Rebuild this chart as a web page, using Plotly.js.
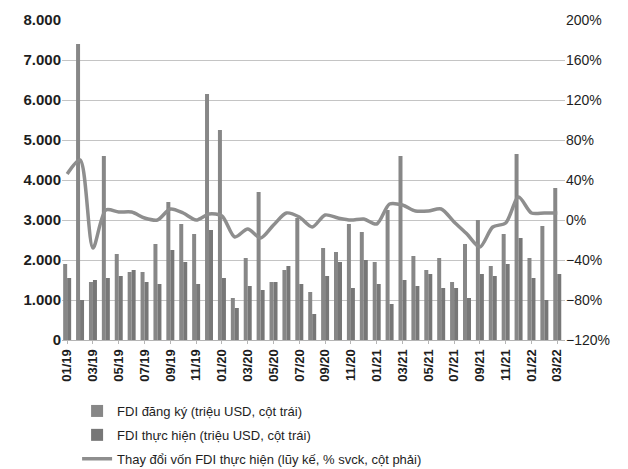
<!DOCTYPE html>
<html>
<head>
<meta charset="utf-8">
<script src="https://cdn.plot.ly/plotly-3.0.1.min.js"></script>
<style>
html,body{margin:0;padding:0;background:#fff;}
#chart{width:628px;height:469px;}
</style>
</head>
<body>
<div id="chart"></div>
<script>
const months = ["01/19","02/19","03/19","04/19","05/19","06/19","07/19","08/19","09/19","10/19","11/19","12/19",
"01/20","02/20","03/20","04/20","05/20","06/20","07/20","08/20","09/20","10/20","11/20","12/20",
"01/21","02/21","03/21","04/21","05/21","06/21","07/21","08/21","09/21","10/21","11/21","12/21",
"01/22","02/22","03/22"];

const fdiRegistered = [1900,7400,1450,4600,2150,1700,1700,2400,3450,2900,2650,6150,
5250,1050,2050,3700,1450,1750,3050,1200,2300,2200,2900,2700,
1950,3250,4600,2100,1750,2050,1450,2400,3000,1850,2650,4650,
2050,2850,3800];

const fdiDisbursed = [1550,1000,1500,1550,1600,1750,1450,1400,2250,1950,1400,2750,
1550,800,1350,1250,1450,1850,1400,650,1600,1950,1300,2000,
1400,900,1500,1350,1650,1300,1300,1050,1650,1600,1900,2550,
1550,1000,1650];

const fdiChangePct = [46,60,-28,10,8,8,2,0,11,7,0,6,
4,-17,-9,-18,-5,7,3,-7,5,2,0,1,
-4,16,15,9,9,11,-2,-14,-27,-7,-3,23,
7,7,7];

const tickLabels = months.filter((m, i) => i % 2 === 0);

const font = "Liberation Sans, Arial, sans-serif";

const traces = [
  {type:"bar", name:"FDI đăng ký (triệu USD, cột trái)", x:months, y:fdiRegistered,
   legendgroup:"a", marker:{color:"#878787"}},
  {type:"bar", name:"FDI thực hiện (triệu USD, cột trái)", x:months, y:fdiDisbursed,
   legendgroup:"b", marker:{color:"#777777"}},
  {type:"scatter", mode:"lines", name:"Thay đổi vốn FDI thực hiện (lũy kế, % svck, cột phải)",
   x:months, y:fdiChangePct, yaxis:"y2", legendgroup:"c",
   line:{color:"#8e8e8e", width:3.5, shape:"spline", smoothing:0.8}}
];

const layout = {
  width:628, height:469,
  margin:{l:62, r:63, t:20, b:129, autoexpand:false},
  paper_bgcolor:"#ffffff", plot_bgcolor:"#ffffff",
  separators:",.",
  barmode:"group", bargap:0.38, bargroupgap:0,
  font:{family:font, color:"#1e1e1e", size:12},
  showlegend:true,
  legend:{orientation:"v", traceorder:"grouped", x:0.03, xanchor:"left", y:-0.175, yanchor:"top",
          font:{family:font, size:13, color:"#1e1e1e"}, tracegroupgap:4,
          bgcolor:"rgba(0,0,0,0)"},
  xaxis:{type:"category", range:[-0.4, 38.6], tickmode:"array", tickvals:tickLabels, ticktext:tickLabels,
         tickangle:-90, tickfont:{family:font, size:13, color:"#1e1e1e", weight:"bold"},
         showline:true, linecolor:"#b5b5b5", linewidth:1, ticks:"outside", ticklen:3, tickcolor:"#b5b5b5",
         showgrid:false, zeroline:false, automargin:false},
  yaxis:{range:[0,8000], dtick:1000, tickformat:",d", showgrid:true, gridcolor:"#c4c4c4", gridwidth:1,
         zeroline:false, showline:false, tickfont:{family:font, size:15, color:"#1e1e1e", weight:"bold"},
         ticks:"", ticklen:0, automargin:false},
  yaxis2:{range:[-120,200], dtick:40, ticksuffix:"%", overlaying:"y", side:"right", showgrid:false,
          zeroline:false, showline:false, tickfont:{family:font, size:14, color:"#1e1e1e"},
          automargin:false}
};

Plotly.newPlot("chart", traces, layout, {staticPlot:true, displayModeBar:false});
</script>
</body>
</html>
